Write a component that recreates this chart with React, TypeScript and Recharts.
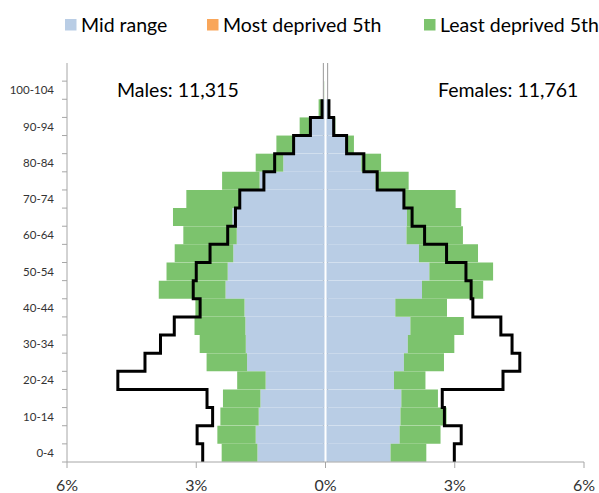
import React from "react";
import {
  ComposedChart,
  Bar,
  Line,
  XAxis,
  YAxis,
  ReferenceLine,
} from "recharts";

// age bands, bottom to top
const ages = [
  "0-4", "5-9", "10-14", "15-19", "20-24", "25-29", "30-34", "35-39",
  "40-44", "45-49", "50-54", "55-59", "60-64", "65-69", "70-74", "75-79",
  "80-84", "85-89", "90-94", "95-99", "100-104", "105+",
];
const ageLabels = [
  "0-4", "10-14", "20-24", "30-34", "40-44", "50-54",
  "60-64", "70-74", "80-84", "90-94", "100-104",
];
const xTicks = [-6, -3, 0, 3, 6];

// % of population in each band
const maleMid = [
  1.58, 1.62, 1.55, 1.51, 1.39, 1.82, 1.85, 1.86, 1.88, 2.32, 2.27,
  2.14, 2.06, 2.16, 1.98, 1.53, 0.98, 0.72, 0.35, 0.06, 0.01, 0,
];
const maleLeast = [
  2.41, 2.51, 2.44, 2.38, 2.05, 2.76, 2.92, 3.04, 3.02, 3.87, 3.69,
  3.5, 3.3, 3.54, 3.23, 2.4, 1.62, 1.14, 0.6, 0.16, 0.02, 0,
];
const maleMost = [
  2.85, 2.98, 2.62, 2.75, 4.82, 4.19, 3.83, 3.51, 2.91, 3.07, 3.0,
  2.68, 2.27, 2.09, 1.99, 1.43, 1.18, 0.74, 0.35, 0.08, null, null,
];
const femaleMid = [
  1.51, 1.72, 1.74, 1.76, 1.59, 1.82, 1.91, 1.97, 1.62, 2.24, 2.41,
  2.17, 1.88, 1.89, 1.81, 1.16, 0.83, 0.47, 0.19, 0.07, 0.01, 0,
];
const femaleLeast = [
  2.34, 2.67, 2.81, 2.61, 2.32, 2.75, 2.99, 3.21, 2.82, 3.66, 3.89,
  3.54, 3.19, 3.15, 3.02, 1.93, 1.29, 0.66, 0.23, 0.1, 0.01, 0,
];
const femaleMost = [
  2.99, 3.15, 2.76, 2.71, 4.12, 4.51, 4.33, 4.07, 3.42, 3.38, 3.26,
  2.81, 2.3, 2.01, 1.82, 1.2, 0.89, 0.49, 0.19, 0.08, null, null,
];

const legendItems = [
  { name: "Mid range", color: "#b9cde5", x: 65 },
  { name: "Most deprived 5th", color: "#f9a65a", x: 207 },
  { name: "Least deprived 5th", color: "#7cc36d", x: 424 },
];

const BLUE = "#b9cde5";
const GREEN = "#7cc36d";
const AXIS = "#a6a6a6";
const FONT = "Lato, 'Open Sans', sans-serif";
const Y_TICK_SIZE = 5;
const Y_TICK_MARGIN = 8;

// males to the left (negative), green stacked on the blue as the remainder
const rows = ages.map((age, i) => ({
  age,
  mBlue: -maleMid[i],
  mGreen: -Math.max(0, maleLeast[i] - maleMid[i]),
  fBlue: femaleMid[i],
  fGreen: Math.max(0, femaleLeast[i] - femaleMid[i]),
  mLine: maleMost[i] == null ? null : -(maleMost[i] as number),
  fLine: femaleMost[i],
}));

// outline of the bands: vertical run through each band, step at the band edges
function stepVertical(context: any) {
  let pts: [number, number][] = [];
  return {
    areaStart() {},
    areaEnd() {},
    lineStart() {
      pts = [];
    },
    point(x: number, y: number) {
      pts.push([x, y]);
    },
    lineEnd() {
      if (!pts.length) return;
      const d = pts.length > 1 ? (pts[1][1] - pts[0][1]) / 2 : 0;
      context.moveTo(pts[0][0], pts[0][1] - d);
      pts.forEach(([x, y], i) => {
        if (i > 0) context.lineTo(x, y - d);
        context.lineTo(x, y + d);
      });
    },
  };
}

function AgeTick(props: any) {
  const { x, y, payload } = props;
  const half = payload.offset ?? 9;
  const lx = x + Y_TICK_MARGIN;
  return (
    <g>
      <line x1={lx} x2={lx + Y_TICK_SIZE} y1={y + half} y2={y + half} stroke={AXIS} />
      {ageLabels.includes(payload.value) && (
        <text x={x} y={y} dy="0.35em" textAnchor="end" fontSize={11.5} fill="#333" fontFamily={FONT}>
          {payload.value}
        </text>
      )}
    </g>
  );
}

export default function App() {
  return (
    <div style={{ position: "absolute", left: 0, top: 0, width: 599, height: 493, background: "#fff" }}>
      <ComposedChart
        width={599}
        height={493}
        data={rows}
        layout="vertical"
        stackOffset="sign"
        barCategoryGap={0}
        margin={{ top: 63, right: 15, left: 5, bottom: 5 }}
      >
        <XAxis
          type="number"
          domain={[-6, 6]}
          ticks={xTicks}
          tickFormatter={(v: number) => `${Math.abs(v)}%`}
          height={26}
          tickSize={6}
          tickMargin={12}
          stroke={AXIS}
          tick={{ fontSize: 16, fill: "#333", fontFamily: FONT }}
        />
        <YAxis
          type="category"
          dataKey="age"
          reversed
          width={62}
          interval={0}
          tickLine={false}
          tickSize={Y_TICK_SIZE}
          tickMargin={Y_TICK_MARGIN}
          stroke={AXIS}
          tick={<AgeTick />}
        />
        <ReferenceLine x={-0.05} stroke="#999" zIndex={-1} />
        <ReferenceLine x={0.05} stroke="#999" zIndex={-1} />
        <Bar dataKey="mBlue" stackId="s" fill={BLUE} isAnimationActive={false} />
        <Bar dataKey="mGreen" stackId="s" fill={GREEN} isAnimationActive={false} />
        <Bar dataKey="fBlue" stackId="s" fill={BLUE} isAnimationActive={false} />
        <Bar dataKey="fGreen" stackId="s" fill={GREEN} isAnimationActive={false} />
        <ReferenceLine x={0} stroke="#fff" strokeWidth={2} />
        <Line dataKey="mLine" type={stepVertical as any} stroke="#000" strokeWidth={3} dot={false} isAnimationActive={false} />
        <Line dataKey="fLine" type={stepVertical as any} stroke="#000" strokeWidth={3} dot={false} isAnimationActive={false} />
      </ComposedChart>
      <svg width={599} height={493} style={{ position: "absolute", left: 0, top: 0, pointerEvents: "none" }}>
        {legendItems.map((item) => (
          <g key={item.name}>
            <rect x={item.x} y={19} width={11.5} height={11.5} fill={item.color} />
            <text x={item.x + 16} y={31.5} fontSize={19.5} fill="#000" fontFamily={FONT}>
              {item.name}
            </text>
          </g>
        ))}
        <text x={117} y={97} fontSize={19.5} fill="#000" fontFamily={FONT}>
          Males: 11,315
        </text>
        <text x={438} y={97} fontSize={19.5} fill="#000" fontFamily={FONT}>
          Females: 11,761
        </text>
      </svg>
    </div>
  );
}
